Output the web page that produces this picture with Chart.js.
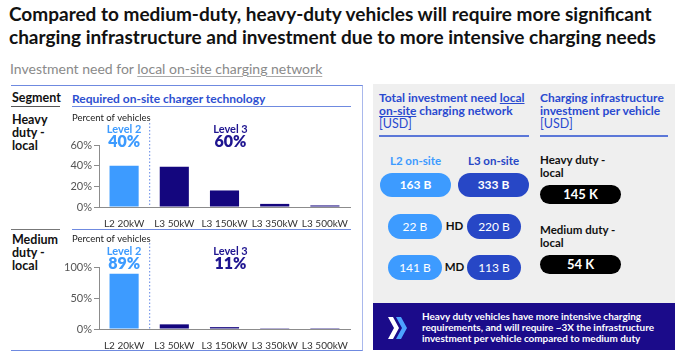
<!DOCTYPE html>
<html>
<head>
<meta charset="utf-8">
<script src="https://cdn.jsdelivr.net/npm/chart.js@4.4.1/dist/chart.umd.min.js"></script>
<style>
  html,body{margin:0;padding:0;background:#fff;}
  body{width:684px;height:357px;position:relative;overflow:hidden;font-family:"Lato","Inter",sans-serif;color:#111;}
  .abs{position:absolute;white-space:nowrap;}
  .title{left:9px;top:2px;font-size:19px;font-weight:700;line-height:23px;color:#111;}
  .sub{left:10px;top:60px;font-size:14px;color:#8a8a8a;}
  .sub u{text-decoration-color:#aaa;text-underline-offset:2px;}
  .leftbox{left:11px;top:85px;width:351px;height:264px;border-top:1px solid #6f8ae0;border-right:1px solid #a9b8ec;border-bottom:1px solid #6f8ae0;}
  .seg{font-size:12.5px;font-weight:700;line-height:13px;color:#111;}
  .hdr{font-size:12px;font-weight:700;color:#2e4fd0;}
  .line{position:absolute;height:1px;}
  .gray{left:373px;top:84px;width:302px;height:219px;background:#efefef;}
  .navy{left:373px;top:303px;width:302px;height:47px;background:#1b0b8a;}
  .ph{font-size:12px;font-weight:700;color:#2a4ad0;line-height:13px;}
  .ph .r{font-weight:400;font-size:12.5px;}
  .pill{position:absolute;border-radius:13px;color:#fff;text-align:center;font-size:12px;}
  .blk{font-size:11.5px;font-weight:700;color:#111;line-height:12.5px;}
  canvas{position:absolute;}
  #note{display:inline-block;}
</style>
</head>
<body>
<div class="abs title">Compared to medium-duty, heavy-duty vehicles will require more significant<br>charging infrastructure and investment due to more intensive charging needs</div>
<div class="abs sub">Investment need for <u>local on-site charging network</u></div>

<div class="abs leftbox"></div>
<div class="abs seg" style="left:12px;top:91px;">Segment</div>
<div class="line" style="left:11px;top:106px;width:49px;background:#555;"></div>
<div class="abs hdr" style="left:72px;top:91px;">Required on-site charger technology</div>
<div class="line" style="left:72px;top:106px;width:279px;background:#6f8ae0;"></div>
<div class="abs seg" style="left:12px;top:113px;">Heavy<br>duty -<br>local</div>
<div class="line" style="left:11px;top:229px;width:49px;background:#777;"></div>
<div class="line" style="left:72px;top:229px;width:279px;background:#6f8ae0;"></div>
<div class="abs seg" style="left:12px;top:233px;">Medium<br>duty -<br>local</div>

<canvas id="heavy" style="left:62px;top:110px;" width="295" height="117"></canvas>
<canvas id="medium" style="left:62px;top:231px;" width="295" height="118"></canvas>

<div class="abs gray"></div>
<div class="abs ph" style="left:379px;top:91px;">Total investment need <u>local</u><br><u>on-site</u> charging network<br><span class="r">[USD]</span></div>
<div class="line" style="left:379px;top:135px;width:150px;height:2px;background:#5b77d8;"></div>
<div class="abs ph" style="left:540px;top:91px;">Charging infrastructure<br>investment per vehicle<br><span class="r">[USD]</span></div>
<div class="line" style="left:540px;top:135px;width:128px;height:2px;background:#5b77d8;"></div>

<div class="abs" style="left:380px;top:154px;width:71px;text-align:center;font-size:11.5px;font-weight:700;color:#3d9bff;">L2 on-site</div>
<div class="abs" style="left:458px;top:154px;width:71px;text-align:center;font-size:11.5px;font-weight:700;color:#2747c6;">L3 on-site</div>
<div id="pills"></div>
<div class="abs blk" style="left:540px;top:154px;">Heavy duty -<br>local</div>
<div class="abs blk" style="left:540px;top:224px;">Medium duty -<br>local</div>

<div class="abs navy"></div>
<svg class="abs" style="left:388px;top:317px;" width="20" height="22" viewBox="0 0 20 22">
  <polygon points="0,0 5,0 11,11 5,22 0,22 6,11" fill="#ffffff"/>
  <polygon points="8,0 13,0 19,11 13,22 8,22 14,11" fill="#4da3ff"/>
</svg>
<div class="abs" style="left:422px;top:311px;font-weight:700;color:#fff;line-height:11px;"><span id="note" style="font-size:10.5px;">Heavy duty vehicles have more intensive charging<br>requirements, and will require ~3X the infrastructure<br>investment per vehicle compared to medium duty</span></div>

<script>
// fit the note text to the reference width
(function(){
  const n = document.getElementById('note');
  const target = 232;
  let fs = 10.5;
  for (let k = 0; k < 4; k++) {
    const w = n.getBoundingClientRect().width;
    if (!w) break;
    fs = fs * target / w;
    n.style.fontSize = fs + 'px';
  }
})();

// ---- data ----
const categories = ["L2 20kW", "L3 50kW", "L3 150kW", "L3 350kW", "L3 500kW"];
const heavyShare = [40, 39, 16, 3, 1.5];
const mediumShare = [89, 7.5, 3, 0.3, 0.2];
const heavyTicks = [0, 20, 40, 60];
const mediumTicks = [0, 50, 100];
const levelNames = ["Level 2", "Level 3"];
const heavyLevelTotals = ["40%", "60%"];
const mediumLevelTotals = ["89%", "11%"];
const investRows = ["", "HD", "MD"];
const l2Investment = ["163 B", "22 B", "141 B"];
const l3Investment = ["333 B", "220 B", "113 B"];
const perVehicle = ["145 K", "54 K"];

// ---- pills (text boxes) ----
const pillBox = document.getElementById('pills');
function pill(text, l, t, w, h, bg, bold, fs) {
  const d = document.createElement('div');
  d.className = 'pill';
  d.style.cssText = `left:${l}px;top:${t}px;width:${w}px;height:${h}px;line-height:${h}px;background:${bg};font-weight:${bold?700:400};font-size:${fs}px;border-radius:${h/2}px;`;
  d.textContent = text;
  pillBox.appendChild(d);
}
pill(l2Investment[0], 380, 173, 71, 24, '#3d9bff', true, 12);
pill(l3Investment[0], 458, 173, 71, 24, '#2747c6', true, 12);
const rowTops = [0, 214, 255];
for (let i = 1; i < 3; i++) {
  pill(l2Investment[i], 388, rowTops[i], 54, 25, '#3d9bff', false, 12);
  pill(l3Investment[i], 467, rowTops[i], 54, 25, '#2747c6', false, 12);
  const lab = document.createElement('div');
  lab.className = 'abs';
  lab.style.cssText = `left:444px;top:${rowTops[i]+5}px;width:21px;text-align:center;font-size:11.5px;font-weight:700;color:#111;`;
  lab.textContent = investRows[i];
  pillBox.appendChild(lab);
}
pill(perVehicle[0], 540, 185, 81, 19, '#000', true, 13);
pill(perVehicle[1], 540, 255, 81, 19, '#000', true, 13);

// ---- charts ----
const L2C = '#3d9bff', L3C = '#14067e', L3T = '#1e1490';
const FONT = '"Lato","Inter",sans-serif';

const annot = {
  id: 'annot',
  afterDraw(chart, args, opts) {
    const ctx = chart.ctx, xs = chart.scales.x, area = chart.chartArea;
    const x0 = xs.getPixelForValue(0), x1 = xs.getPixelForValue(1), x2 = xs.getPixelForValue(2);
    const mid = (x0 + x1) / 2;
    ctx.save();
    ctx.fillStyle = '#222';
    ctx.font = '9.5px ' + FONT;
    ctx.textAlign = 'left'; ctx.textBaseline = 'middle';
    ctx.fillText('Percent of vehicles', 10, 8);
    // dotted divider
    ctx.strokeStyle = '#5f86e6'; ctx.lineWidth = 1; ctx.setLineDash([1.5, 2]);
    ctx.beginPath(); ctx.moveTo(mid + 0.5, opts.dotTop); ctx.lineTo(mid + 0.5, area.bottom); ctx.stroke();
    ctx.setLineDash([]);
    ctx.textAlign = 'center';
    const l3x = x2 + 6;
    ctx.font = '700 11px ' + FONT;
    ctx.fillStyle = L2C; ctx.fillText(levelNames[0], x0, opts.levelY);
    ctx.fillStyle = L3T; ctx.fillText(levelNames[1], l3x, opts.levelY);
    ctx.font = '800 16px ' + FONT;
    ctx.fillStyle = L2C; ctx.fillText(opts.totals[0], x0, opts.levelY + 13);
    ctx.fillStyle = L3T; ctx.fillText(opts.totals[1], l3x, opts.levelY + 13);
    ctx.restore();
  }
};

function makeChart(id, values, ticks, padTop, totals, dotTop, levelY) {
  const maxV = ticks[ticks.length - 1];
  return new Chart(document.getElementById(id), {
    type: 'bar',
    data: {
      labels: categories,
      datasets: [{
        data: values,
        backgroundColor: values.map((v, i) => i === 0 ? L2C : L3C),
        borderWidth: 0,
        barPercentage: 0.58,
        categoryPercentage: 1
      }]
    },
    options: {
      responsive: false,
      animation: false,
      devicePixelRatio: 1,
      layout: { padding: { top: padTop, right: 7, left: 0, bottom: 0 } },
      plugins: { legend: { display: false }, tooltip: { enabled: false }, annot: { totals, dotTop, levelY } },
      scales: {
        x: {
          grid: { display: false },
          border: { display: true, color: '#8c8c8c', width: 1 },
          ticks: { color: '#333', font: { family: FONT, size: 10 }, padding: 3, maxRotation: 0, autoSkip: false },
          afterFit(s) { s.height = 20; }
        },
        y: {
          min: 0, max: maxV,
          afterBuildTicks(s) { s.ticks = ticks.map(v => ({ value: v })); },
          grid: { display: true, drawOnChartArea: false, drawTicks: true, tickLength: 5, color: '#8c8c8c' },
          border: { display: true, color: '#8c8c8c', width: 1 },
          ticks: { color: '#555', font: { family: FONT, size: 11 }, padding: 2, callback: v => v + '%' },
          afterFit(s) { s.width = 37; }
        }
      }
    },
    plugins: [annot]
  });
}
makeChart('heavy', heavyShare, heavyTicks, 35, heavyLevelTotals, 13, 19);
makeChart('medium', mediumShare, mediumTicks, 36, mediumLevelTotals, 12, 20);
</script>
</body>
</html>
